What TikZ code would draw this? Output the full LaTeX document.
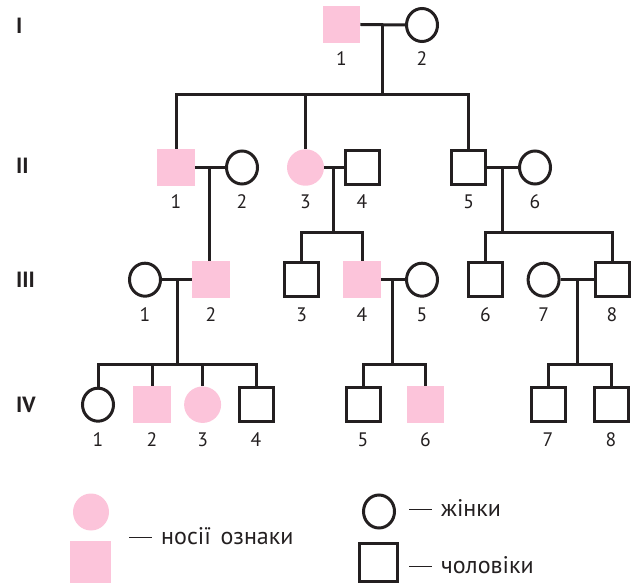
\documentclass[tikz,border=0pt]{standalone}
\usepackage{fontspec}
\setmainfont{PT Sans}
\usetikzlibrary{shapes.geometric,calc}
\definecolor{pinkc}{RGB}{252,196,218}
\definecolor{ink}{RGB}{35,31,32}
\newcommand{\ldash}{\rule[0.26em]{23pt}{1.4pt}\hspace{9pt}}
\tikzset{
 lw/.style={line width=3pt},
 male/.style={rectangle, draw=ink, lw, minimum size=34pt, inner sep=0pt},
 female/.style={ellipse, draw=ink, lw, minimum width=31pt, minimum height=33pt, inner sep=0pt},
 cmale/.style={rectangle, fill=pinkc, minimum size=37.5pt, inner sep=0pt},
 cfemale/.style={ellipse, fill=pinkc, minimum width=37pt, minimum height=36.5pt, inner sep=0pt},
 num/.style={font=\fontsize{19.5}{21}\selectfont, text=ink, inner sep=0pt},
 gen/.style={font=\fontsize{22}{24}\selectfont\bfseries, text=ink, anchor=west, inner sep=0pt},
 legend/.style={font=\fontsize{24}{26}\selectfont, text=ink, anchor=base west, inner sep=0pt},
 link/.style={draw=ink, lw},
}
\begin{document}
\begin{tikzpicture}[x=1pt,y=-1pt]
\useasboundingbox (0,0) rectangle (631,585);
% generation labels
\node[gen] (gI) at (16,26) {I};
\node[gen] (gII) at (16,165.5) {II};
\node[gen] (gIII) at (16,279.5) {III};
\node[gen] (gIV) at (16,404.5) {IV};
% persons
\node[cmale] (I1) at (341.5,24.5) {};
\node[female] (I2) at (422,25) {};
\node[cmale] (II1) at (176,167.5) {};
\node[female] (II2) at (242,167.5) {};
\node[cfemale] (II3) at (305.5,167.5) {};
\node[male] (II4) at (362,167.5) {};
\node[male] (II5) at (468.6,167.5) {};
\node[female] (II6) at (535,167.5) {};
\node[female] (III1) at (145,279.7) {};
\node[cmale] (III2) at (211,279.7) {};
\node[male] (III3) at (301.6,279.7) {};
\node[cmale] (III4) at (362,279.7) {};
\node[female] (III5) at (422,279.7) {};
\node[male] (III6) at (485.5,279.7) {};
\node[female] (III7) at (543.6,279.7) {};
\node[male] (III8) at (612,279.7) {};
\node[female] (IV1) at (98,404.7) {};
\node[cmale] (IV2) at (152,404.7) {};
\node[cfemale] (IV3) at (202.6,404.7) {};
\node[male] (IV4) at (256,404.7) {};
\node[male] (IV5) at (363,404.7) {};
\node[cmale] (IV6) at (425.5,404.7) {};
\node[male] (IV7) at (548,404.7) {};
\node[male] (IV8) at (611,404.7) {};
% numbers
\foreach \n/\t in {I1/1,I2/2,II1/1,II2/2,II3/3,II4/4,II5/5,II6/6}
  \node[num] (l\n) at ([yshift=-34pt]\n.center) {\t};
\foreach \n/\t in {III1/1,III2/2,III3/3,III4/4,III5/5,III6/6,III7/7,III8/8,IV1/1,IV2/2,IV3/3,IV4/4,IV5/5,IV6/6,IV7/7,IV8/8}
  \node[num] (l\n) at ([yshift=-35pt]\n.center) {\t};
% sibship levels
\coordinate (y1) at (0,95);
\coordinate (y2) at (0,233);
\coordinate (y3) at (0,364);
% marriages and descent
\draw[link] (I1.east) -- coordinate (m1) (I2.west);
\draw[link] (m1) -- (m1 |- y1);
\draw[link] (II1.north) |- (m1 |- y1) -| (II5.north);
\draw[link] (II3.north) -- (II3.north |- y1);
\draw[link] (II1.east) -- coordinate (m2) (II2.west);
\draw[link] (m2) -- (m2 |- III2.north);
\draw[link] (II3.east) -- coordinate (m3) (II4.west);
\draw[link] (m3) -- (m3 |- y2);
\draw[link] (III3.north) |- (m3 |- y2) -| (III4.north);
\draw[link] (II5.east) -- coordinate (m4) (II6.west);
\draw[link] (m4) -- (m4 |- y2);
\draw[link] (III6.north) |- (m4 |- y2) -| (III8.north);
\draw[link] (III1.east) -- coordinate (m5) (III2.west);
\draw[link] (m5) -- (m5 |- y3);
\draw[link] (IV1.north) |- (m5 |- y3) -| (IV4.north);
\draw[link] (IV2.north) -- (IV2.north |- y3);
\draw[link] (IV3.north) -- (IV3.north |- y3);
\draw[link] (III4.east) -- coordinate (m6) (III5.west);
\draw[link] (m6) -- (m6 |- y3);
\draw[link] (IV5.north) |- (m6 |- y3) -| (IV6.north);
\draw[link] (III7.east) -- coordinate (m7) (III8.west);
\draw[link] (m7) -- (m7 |- y3);
\draw[link] (IV7.north) |- (m7 |- y3) -| (IV8.north);
% legend
\node[cfemale, minimum width=36pt, minimum height=37pt] (Lc) at (91,512) {};
\node[cmale, minimum width=41.7pt, minimum height=42.3pt] (Ls) at (90.5,561.8) {};
\node[female] (Lf) at (379,511.5) {};
\node[male, minimum size=38pt] (Lm) at (378.5,562) {};
\node[legend] (t1) at (129,544.3) {\ldash носії\hspace{0.4em}ознаки};
\node[legend] (t2) at (409,516.7) {\ldash жінки};
\node[legend] (t3) at (409,573.3) {\ldash чоловіки};
\end{tikzpicture}
\end{document}
